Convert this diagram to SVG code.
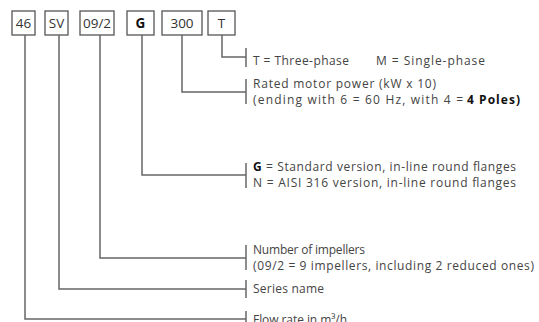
<svg xmlns="http://www.w3.org/2000/svg" width="539" height="322" viewBox="0 0 539 322">
<style>
.box rect{fill:#fff;stroke:#555;stroke-width:1.3}
.box text{font-family:"Open Sans","DejaVu Sans",sans-serif;font-size:13.5px;fill:#333;text-anchor:middle}
.conn path{fill:none;stroke:#666;stroke-width:1.5}
.lbl{font-family:"Open Sans","DejaVu Sans",sans-serif;font-size:12px;fill:#444}
.b{font-weight:bold;fill:#111}
</style>
<rect width="539" height="322" fill="#fff"/>
<g id="n46" class="box"><rect x="12" y="11" width="23" height="24"/><text x="23.5" y="28">46</text></g>
<g id="nSV" class="box"><rect x="45" y="11" width="23" height="24"/><text x="56.5" y="28">SV</text></g>
<g id="n092" class="box"><rect x="80" y="11" width="34" height="24"/><text x="97" y="28">09/2</text></g>
<g id="nG" class="box"><rect x="127" y="11" width="27" height="24"/><text x="140.5" y="28" font-weight="bold" style="fill:#111">G</text></g>
<g id="n300" class="box"><rect x="162" y="11" width="40" height="24"/><text x="182" y="28">300</text></g>
<g id="nT" class="box"><rect x="208" y="11" width="27" height="24"/><text x="221.5" y="28">T</text></g>
<g id="connectors" class="conn">
<path d="M222 35V57H246"/><path d="M246 48V67"/>
<path d="M182 35V92H246"/><path d="M246 79V104"/>
<path d="M142 35V175H246"/><path d="M246 163V188"/>
<path d="M100 35V258H246"/><path d="M246 245V270"/>
<path d="M59 35V289H246"/><path d="M246 280V298"/>
<path d="M25 35V319H246"/><path d="M246 311V322"/>
</g>
<g id="t-motor">
<text class="lbl" x="253" y="65" textLength="96">T = Three-phase</text>
<text class="lbl" x="376" y="65" textLength="109">M = Single-phase</text>
</g>
<g id="t-power">
<text class="lbl" x="253" y="88" textLength="183">Rated motor power (kW x 10)</text>
<text class="lbl" x="253" y="104" textLength="210">(ending with 6 = 60 Hz, with 4 =</text>
<text class="lbl b" x="467" y="104" textLength="53">4 Poles)</text>
</g>
<g id="t-version">
<text class="lbl" x="253" y="171" textLength="263"><tspan class="b">G</tspan> = Standard version, in-line round flanges</text>
<text class="lbl" x="253" y="187" textLength="263">N = AISI 316 version, in-line round flanges</text>
</g>
<g id="t-imp">
<text class="lbl" x="253" y="254" textLength="112">Number of impellers</text>
<text class="lbl" x="253" y="270" textLength="281">(09/2 = 9 impellers, including 2 reduced ones)</text>
</g>
<g id="t-series"><text class="lbl" x="253" y="293" textLength="71">Series name</text></g>
<g id="t-flow"><text class="lbl" x="253" y="324" textLength="94">Flow rate in m³/h</text></g>
</svg>
